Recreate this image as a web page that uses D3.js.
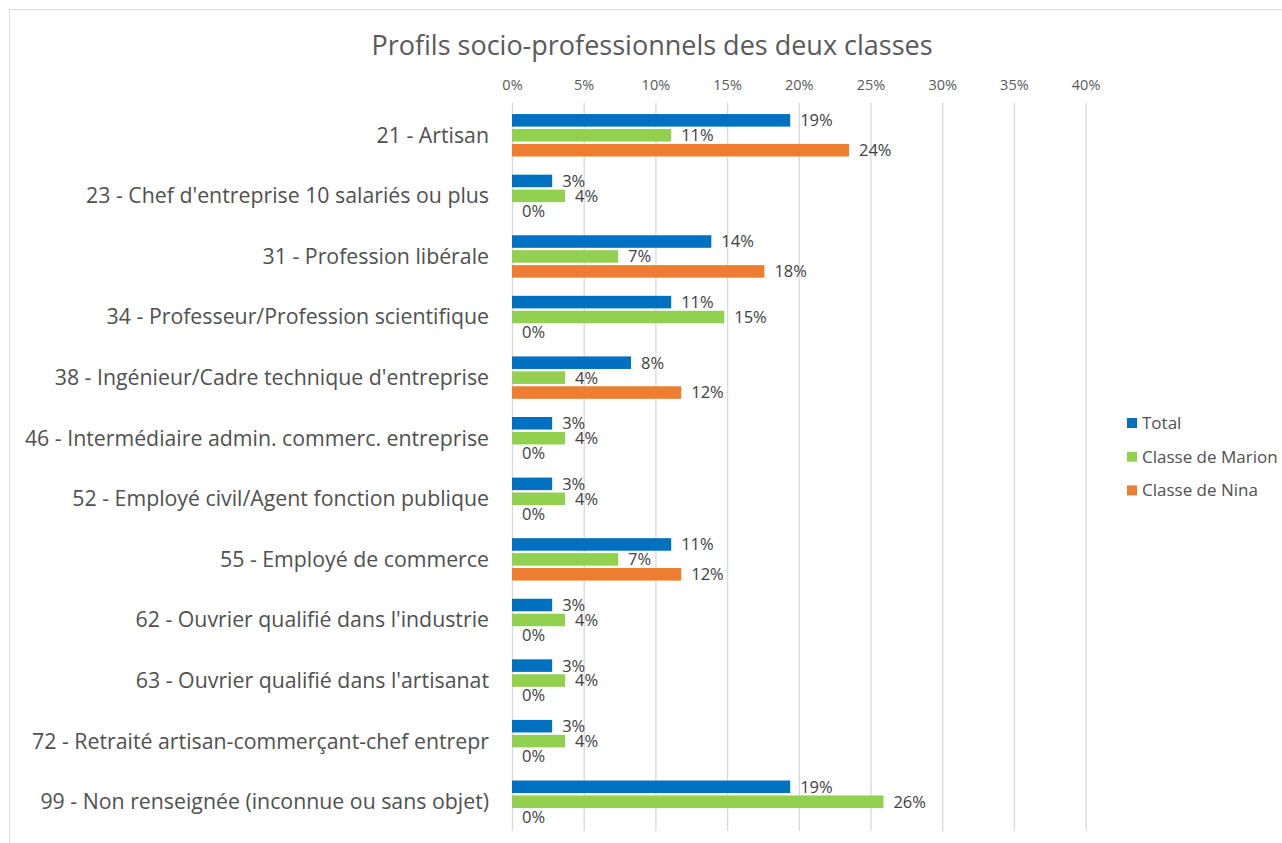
<!DOCTYPE html>
<html>
<head>
<meta charset="utf-8">
<script src="https://cdn.jsdelivr.net/npm/d3@7"></script>
<style>
  body { margin: 0; background: #fff; }
  svg { display: block; font-family: "Open Sans", sans-serif; }
</style>
</head>
<body>
<div id="chart"></div>
<script>
// categories (top to bottom)
var categories = [
    "21 - Artisan",
    "23 - Chef d'entreprise 10 salariés ou plus",
    "31 - Profession libérale",
    "34 - Professeur/Profession scientifique",
    "38 - Ingénieur/Cadre technique d'entreprise",
    "46 - Intermédiaire admin. commerc. entreprise",
    "52 - Employé civil/Agent fonction publique",
    "55 - Employé de commerce",
    "62 - Ouvrier qualifié dans l'industrie",
    "63 - Ouvrier qualifié dans l'artisanat",
    "72 - Retraité artisan-commerçant-chef entrepr",
    "99 - Non renseignée (inconnue ou sans objet)"
];

var seriesNames = ["Total", "Classe de Marion", "Classe de Nina"];

var total = [0.194, 0.028, 0.139, 0.111, 0.083, 0.028, 0.028, 0.111, 0.028, 0.028, 0.028, 0.194];
var marion = [0.111, 0.037, 0.074, 0.148, 0.037, 0.037, 0.037, 0.074, 0.037, 0.037, 0.037, 0.259];
var nina = [0.235, 0, 0.176, 0, 0.118, 0, 0, 0.118, 0, 0, 0, 0];

var tickValues = [0, 0.05, 0.10, 0.15, 0.20, 0.25, 0.30, 0.35, 0.40];

var colors = ["#0070C0", "#92D050", "#ED7D31"];

var width = 1282, height = 843;

var svg = d3.select('#chart')
    .append('svg')
    .attr('width', width)
    .attr('height', height);

// chart area border (runs off the right and bottom edges)
svg.append('rect')
    .attr('x', 9.5)
    .attr('y', 9.5)
    .attr('width', 1400)
    .attr('height', 1000)
    .attr('fill', 'none')
    .attr('stroke', '#d9d9d9');

// title
svg.append('text')
    .attr('x', 652)
    .attr('y', 55)
    .attr('text-anchor', 'middle')
    .style('font-size', '27px')
    .style('fill', '#595959')
    .text('Profils socio-professionnels des deux classes');

var x = d3.scaleLinear().domain([0, 0.4]).range([512, 1085.6]);

var y0 = d3.scaleBand()
    .domain(categories)
    .range([105, 832])
    .paddingInner(0.3)
    .paddingOuter(0.15);

var y1 = d3.scaleBand()
    .domain(seriesNames)
    .range([0, y0.bandwidth()])
    .paddingInner(0.16);

var color = d3.scaleOrdinal().domain(seriesNames).range(colors);

// gridlines
svg.append('g')
    .selectAll('line')
    .data(tickValues)
    .enter()
    .append('line')
    .attr('x1', d => x(d) + 0.5)
    .attr('x2', d => x(d) + 0.5)
    .attr('y1', 103)
    .attr('y2', 831)
    .attr('stroke', '#d9d9d9')
    .attr('stroke-width', 1.3);

// top axis labels
var xAxis = d3.axisTop(x)
    .tickValues(tickValues)
    .tickFormat(d3.format('.0%'))
    .tickSize(0)
    .tickPadding(0);

var axisG = svg.append('g')
    .attr('transform', 'translate(0,90)')
    .call(xAxis);
axisG.select('.domain').remove();
axisG.selectAll('text')
    .style('font-size', '14.5px')
    .style('font-family', '"Open Sans", sans-serif')
    .style('fill', '#595959');

// category labels
svg.append('g')
    .selectAll('text')
    .data(categories)
    .enter()
    .append('text')
    .attr('x', 489)
    .attr('y', d => y0(d) + y0.bandwidth() / 2)
    .attr('dy', '0.35em')
    .attr('text-anchor', 'end')
    .style('font-size', '21.3px')
    .style('fill', '#505050')
    .text(d => d);

// bars
var rows = categories.map((c, i) => ({
    category: c,
    values: [
        { key: seriesNames[0], value: total[i] },
        { key: seriesNames[1], value: marion[i] },
        { key: seriesNames[2], value: nina[i] }
    ]
}));

var groups = svg.append('g')
    .selectAll('g')
    .data(rows)
    .enter()
    .append('g')
    .attr('transform', d => 'translate(0,' + y0(d.category) + ')');

groups.selectAll('rect')
    .data(d => d.values)
    .enter()
    .append('rect')
    .attr('x', x(0))
    .attr('y', d => y1(d.key))
    .attr('width', d => x(d.value) - x(0))
    .attr('height', y1.bandwidth())
    .attr('fill', d => color(d.key));

// value labels
groups.selectAll('text')
    .data(d => d.values)
    .enter()
    .append('text')
    .attr('x', d => x(d.value) + 10)
    .attr('y', d => y1(d.key) + y1.bandwidth() / 2)
    .attr('dy', '0.36em')
    .style('font-size', '16.5px')
    .style('fill', '#404040')
    .text(d => d3.format('.0%')(d.value));

// legend
var legend = svg.append('g')
    .selectAll('g')
    .data(seriesNames)
    .enter()
    .append('g')
    .attr('transform', (d, i) => 'translate(1127,' + (423 + i * 33.7) + ')');

legend.append('rect')
    .attr('x', 0)
    .attr('y', -5)
    .attr('width', 10)
    .attr('height', 10)
    .attr('fill', color);

legend.append('text')
    .attr('x', 15)
    .attr('y', 0)
    .attr('dy', '0.35em')
    .style('font-size', '17px')
    .style('fill', '#505050')
    .text(d => d);
</script>
</body>
</html>
